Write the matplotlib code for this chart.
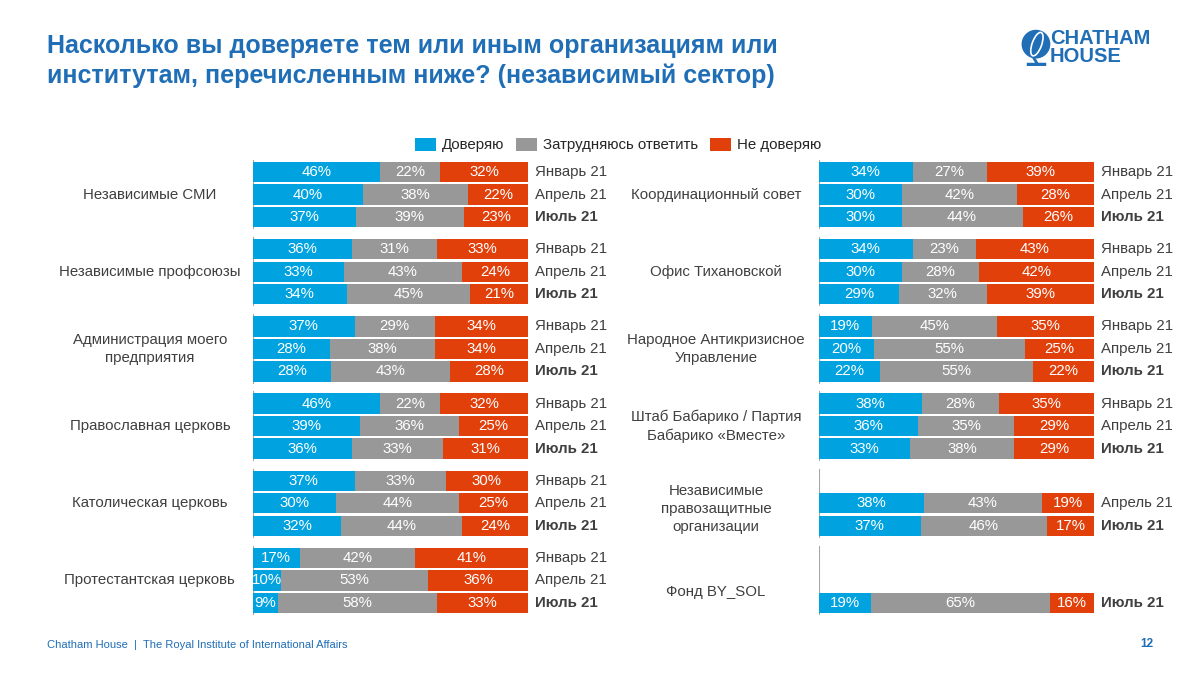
import matplotlib.pyplot as plt
from matplotlib.patches import Patch, Circle, Ellipse
import numpy as np

plt.rcParams['font.family'] = ['Liberation Sans', 'DejaVu Sans']

periods = ["Январь 21", "Апрель 21", "Июль 21"]
series_names = ["Доверяю", "Затрудняюсь ответить", "Не доверяю"]
colors = ["#00A3E0", "#989898", "#E1400B"]

left_groups = ["Независимые СМИ", "Независимые профсоюзы",
               "Администрация моего\nпредприятия", "Православная церковь",
               "Католическая церковь", "Протестантская церковь"]
left_trust = [[46, 40, 37], [36, 33, 34], [37, 28, 28], [46, 39, 36], [37, 30, 32], [17, 10, 9]]
left_unsure = [[22, 38, 39], [31, 43, 45], [29, 38, 43], [22, 36, 33], [33, 44, 44], [42, 53, 58]]
left_distrust = [[32, 22, 23], [33, 24, 21], [34, 34, 28], [32, 25, 31], [30, 25, 24], [41, 36, 33]]

right_groups = ["Координационный совет", "Офис Тихановской",
                "Народное Антикризисное\nУправление",
                "Штаб Бабарико / Партия\nБабарико «Вместе»",
                "Независимые\nправозащитные\nорганизации", "Фонд BY_SOL"]
right_trust = [[34, 30, 30], [34, 30, 29], [19, 20, 22], [38, 36, 33], [None, 38, 37], [None, None, 19]]
right_unsure = [[27, 42, 44], [23, 28, 32], [45, 55, 55], [28, 35, 38], [None, 43, 46], [None, None, 65]]
right_distrust = [[39, 28, 26], [43, 42, 39], [35, 25, 22], [35, 29, 29], [None, 19, 17], [None, None, 16]]

blue = "#1F6EB6"
text_gray = "#404040"
G = 3.431  # group pitch in bar slots

fig = plt.figure(figsize=(12, 6.75), dpi=100)


def draw_panel(ax, groups, trust, unsure, distrust):
    for g, name in enumerate(groups):
        y0 = g * G
        ax.plot([0, 0], [y0 - 0.5, y0 + 2.5], color="#A6A6A6", lw=1.5, zorder=1)
        present = [j for j in range(3) if trust[g][j] is not None]
        label_y = y0 + (1 + np.mean(present)) / 2
        ax.text(-37.5, label_y, name, ha="center", va="center", fontsize=10.8,
                color=text_gray, linespacing=1.4, clip_on=False)
        for j in present:
            vals = [trust[g][j], unsure[g][j], distrust[g][j]]
            total = float(sum(vals))
            y = y0 + j
            left = 0
            for v, c in zip(vals, colors):
                w = v / total * 100
                ax.barh(y, w, left=left, height=0.9, color=c, zorder=2)
                ax.text(left + w / 2, y, f"{v}%", ha="center", va="center",
                        color="white", fontsize=10.8, zorder=3)
                left += w
            ax.text(102.5, y, periods[j], ha="left", va="center", fontsize=10.8,
                    color=text_gray, fontweight="bold" if j == 2 else "normal",
                    clip_on=False)
    ax.set_xlim(0, 100)
    ax.set_ylim(5 * G + 2 + 0.6, -0.6)
    ax.axis("off")


ax_bottom = 1 - 616.5 / 675
ax_height = (616.5 - 158.5) / 675
axl = fig.add_axes([253 / 1200, ax_bottom, 275 / 1200, ax_height])
axr = fig.add_axes([819 / 1200, ax_bottom, 275 / 1200, ax_height])
draw_panel(axl, left_groups, left_trust, left_unsure, left_distrust)
draw_panel(axr, right_groups, right_trust, right_unsure, right_distrust)

handles = [Patch(facecolor=c, label=n) for c, n in zip(colors, series_names)]
fig.legend(handles=handles, loc="center", bbox_to_anchor=(618 / 1200, 1 - 145 / 675),
           ncol=3, frameon=False, fontsize=10.8, handlelength=1.4, handleheight=1.0,
           handletextpad=0.4, columnspacing=0.8, labelcolor="#262626")

fig.text(47 / 1200, 1 - 34 / 675,
         "Насколько вы доверяете тем или иным организациям или\n"
         "институтам, перечисленным ниже? (независимый сектор)",
         ha="left", va="top", fontsize=18, fontweight="bold", color=blue,
         linespacing=1.3)

# logo
lax = fig.add_axes([1016 / 1200, 1 - 66 / 675, 38 / 1200, 38 / 675])
lax.set_xlim(-1, 1)
lax.set_ylim(-1, 1)
lax.set_aspect("equal")
lax.axis("off")
lax.add_patch(Circle((0.05, 0.15), 0.72, color=blue))
lax.add_patch(Ellipse((0.1, 0.15), 0.5, 1.3, fill=False, ec="white", lw=1.2, angle=-20))
lax.plot([-0.05, 0.1], [-0.6, -0.85], color=blue, lw=2)
lax.plot([-0.35, 0.45], [-0.9, -0.9], color=blue, lw=2.5)
fig.text(1050 / 1200, 1 - 38 / 675, "CHATHAM", ha="left", va="center",
         fontsize=14.5, fontweight="bold", color=blue)
fig.text(1050 / 1200, 1 - 57 / 675, "HOUSE", ha="left", va="center",
         fontsize=14.5, fontweight="bold", color=blue)

fig.text(47 / 1200, 1 - 645 / 675,
         "Chatham House  |  The Royal Institute of International Affairs",
         ha="left", va="center", fontsize=8, color=blue)
fig.text(1147 / 1200, 1 - 644 / 675, "12", ha="center", va="center",
         fontsize=8.5, fontweight="bold", color=blue)

fig.savefig("out.png", dpi=100)
